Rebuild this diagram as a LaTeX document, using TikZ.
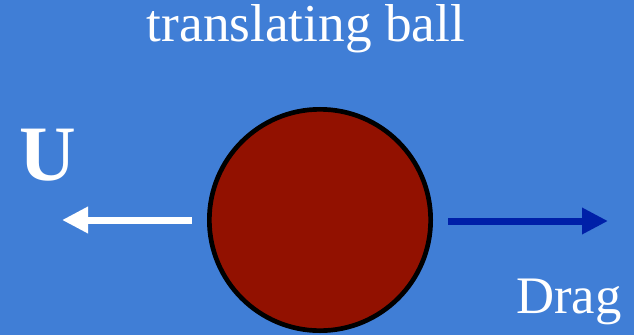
\documentclass[tikz,border=0pt]{standalone}
\usepackage{fontspec}
\setmainfont{Liberation Serif}
\usetikzlibrary{arrows.meta}
\definecolor{slideblue}{RGB}{64,126,214}
\definecolor{ballred}{RGB}{146,17,0}
\definecolor{dragblue}{RGB}{0,32,168}
\tikzset{
  label text/.style={text=white, inner sep=0pt},
  force/.style={line width=0.21cm, -{Triangle[length=0.78cm, width=0.75cm]}}
}
\begin{document}
\begin{tikzpicture}[x=0.03cm, y=-0.03cm]
    \fill[slideblue] (0,0) rectangle (634,335);
    \useasboundingbox (0,0) rectangle (634,335);
    \node[label text, anchor=base, font=\fontsize{45.5}{50}\selectfont] (title) at (306,42) {translating ball};
    \node[circle, draw=black, fill=ballred, line width=0.14cm, minimum size=6.64cm, inner sep=0pt] (ball) at (320,220) {};
    \coordinate (U1) at (192,220);
    \coordinate (U2) at (62,220);
    \coordinate (D1) at (448,221);
    \coordinate (D2) at (608,221);
    \draw[force, white] (U1) -- (U2);
    \draw[force, dragblue] (D1) -- (D2);
    \node[label text, anchor=base west, font=\fontsize{67}{70}\selectfont\bfseries] (U) at (19,180) {U};
    \node[label text, anchor=base west, font=\fontsize{45}{50}\selectfont] (drag) at (516,313) {Drag};
  \end{tikzpicture}
\end{document}
